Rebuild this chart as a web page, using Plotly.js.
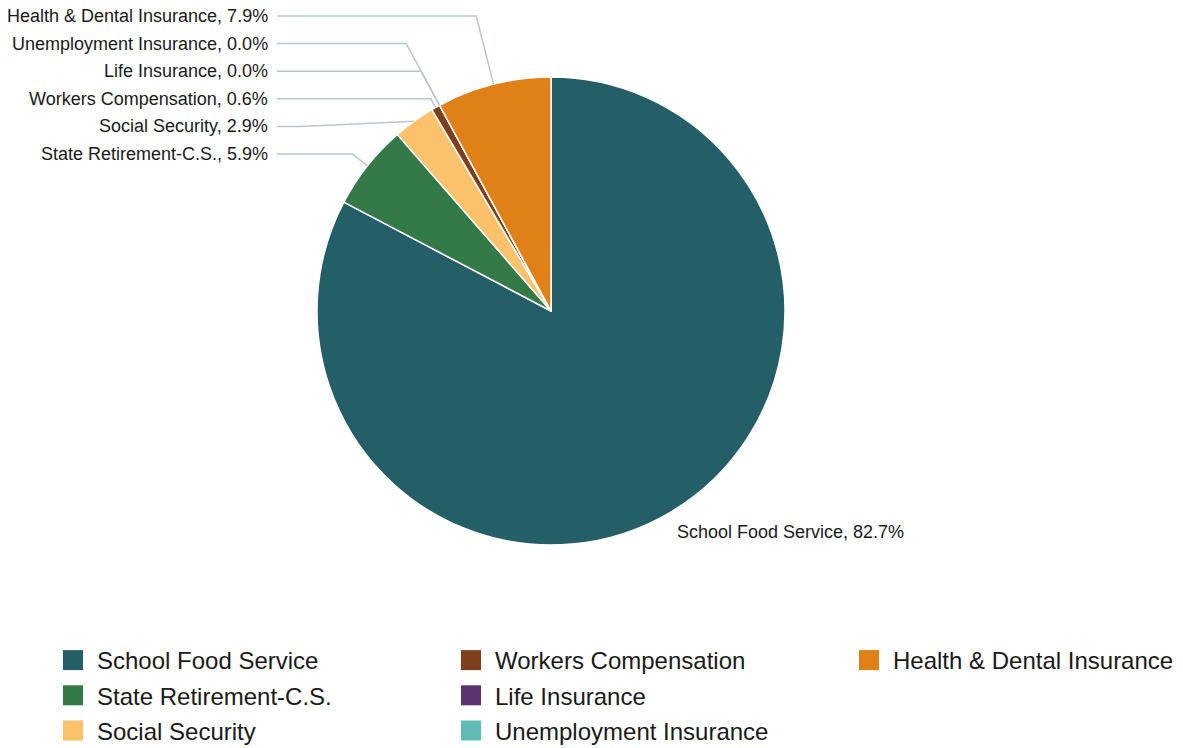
<!DOCTYPE html>
<html>
<head>
<meta charset="utf-8">
<script src="https://cdn.plot.ly/plotly-3.0.1.min.js"></script>
<style>html,body{margin:0;padding:0;background:#fff;}#chart{width:1183px;height:748px;}</style>
</head>
<body>
<div id="chart"></div>
<script>
// ---- data ----
var categories = ["School Food Service", "State Retirement-C.S.", "Social Security", "Workers Compensation", "Life Insurance", "Unemployment Insurance", "Health & Dental Insurance"];
var values = [82.7, 5.9, 2.9, 0.6, 0.0, 0.0, 7.9];
var colors = ["#245e66", "#347a49", "#fbc26b", "#7f3f1e", "#5c3370", "#60bcb5", "#e08117"];
var legendColumns = [[0, 1, 2], [3, 4, 5], [6]];

// ---- layout constants (pixels) ----
var W = 1183, H = 748;
var cx = 551, cy = 311, R = 234;
var labelRightX = 270, lineStartX = 277, labelTopY = 16, labelStep = 27.6;
var FONT = "Liberation Sans, Arial, Helvetica, sans-serif";
var lineColor = "#b9c5d6";

function px(x) { return x / W; }
function py(y) { return 1 - y / H; }

var total = values.reduce(function (a, b) { return a + b; }, 0);
var cum = 0, midAng = [];
values.forEach(function (v) {
  midAng.push((cum + v / 2) / total * 360);
  cum += v;
});
function fmt(v) { return (v / total * 100).toFixed(1) + "%"; }

var annotations = [], shapes = [];
var big = 0;
values.forEach(function (v, i) { if (v > values[big]) big = i; });
(function () {
  var a = midAng[big] * Math.PI / 180;
  var x = cx + R * Math.sin(a), y = cy - R * Math.cos(a);
  annotations.push({
    x: px(x), y: py(y), xref: "paper", yref: "paper", xanchor: "left", yanchor: "middle",
    xshift: 3, yshift: -21,
    text: categories[big] + ", " + fmt(values[big]), showarrow: false,
    font: { family: FONT, size: 18, color: "#1a1a1a" }
  });
})();
var small = [];
for (var i = values.length - 1; i >= 0; i--) if (i !== big) small.push(i);
small.forEach(function (idx, k) {
  var Ly = labelTopY + k * labelStep;
  annotations.push({
    x: px(labelRightX), y: py(Ly), xref: "paper", yref: "paper", xanchor: "right", yanchor: "middle",
    text: categories[idx] + ", " + fmt(values[idx]), showarrow: false,
    font: { family: FONT, size: 18, color: "#1a1a1a" }
  });
  var a = midAng[idx] * Math.PI / 180;
  var Px = cx + R * Math.sin(a), Py = cy - R * Math.cos(a);
  var t = (cy - Ly) / Math.cos(a);
  var ex, ey = Ly;
  if (t >= R) { ex = cx + t * Math.sin(a); } else { ex = lineStartX + 23; }
  shapes.push({
    type: "path", xref: "paper", yref: "paper",
    path: "M" + px(lineStartX) + "," + py(Ly) + " L" + px(ex) + "," + py(ey) + " L" + px(Px) + "," + py(Py),
    line: { color: lineColor, width: 1.5 }
  });
});

var traces = [{
  type: "pie",
  labels: categories,
  values: values,
  sort: false,
  direction: "clockwise",
  rotation: 0,
  textinfo: "none",
  hoverinfo: "label+percent",
  showlegend: false,
  marker: { colors: colors, line: { color: "#ffffff", width: 1.5 } },
  domain: { x: [px(cx - R), px(cx + R)], y: [py(cy + R), py(cy - R)] }
}];

var legendNames = ["legend", "legend2", "legend3"];
var legendX = [57, 455, 853];
legendColumns.forEach(function (col, c) {
  col.forEach(function (idx) {
    traces.push({
      type: "scatter", mode: "markers", x: [null], y: [null],
      name: categories[idx], legend: legendNames[c], legendgroup: "g" + idx,
      marker: { symbol: "square", size: 20, color: colors[idx] },
      hoverinfo: "skip"
    });
  });
});

var layout = {
  width: W, height: H,
  margin: { l: 0, r: 0, t: 0, b: 0, autoexpand: false },
  paper_bgcolor: "#ffffff", plot_bgcolor: "#ffffff",
  xaxis: { visible: false }, yaxis: { visible: false },
  annotations: annotations, shapes: shapes,
  font: { family: FONT }
};
legendNames.forEach(function (ln, c) {
  layout[ln] = {
    x: px(legendX[c]), y: py(638), xanchor: "left", yanchor: "top",
    orientation: "v", bgcolor: "rgba(0,0,0,0)", borderwidth: 0,
    font: { family: FONT, size: 24, color: "#1a1a1a" },
    traceorder: "grouped", tracegroupgap: 1, itemsizing: "trace"
  };
});

Plotly.newPlot("chart", traces, layout, { displayModeBar: false, staticPlot: true }).then(function () {
  // enlarge legend swatches to the reference size
  document.querySelectorAll("#chart .legendpoints path").forEach(function (el) {
    var tr = el.getAttribute("transform") || "";
    el.setAttribute("transform", tr + " translate(-4,0) scale(1.25)");
  });
});
</script>
</body>
</html>
